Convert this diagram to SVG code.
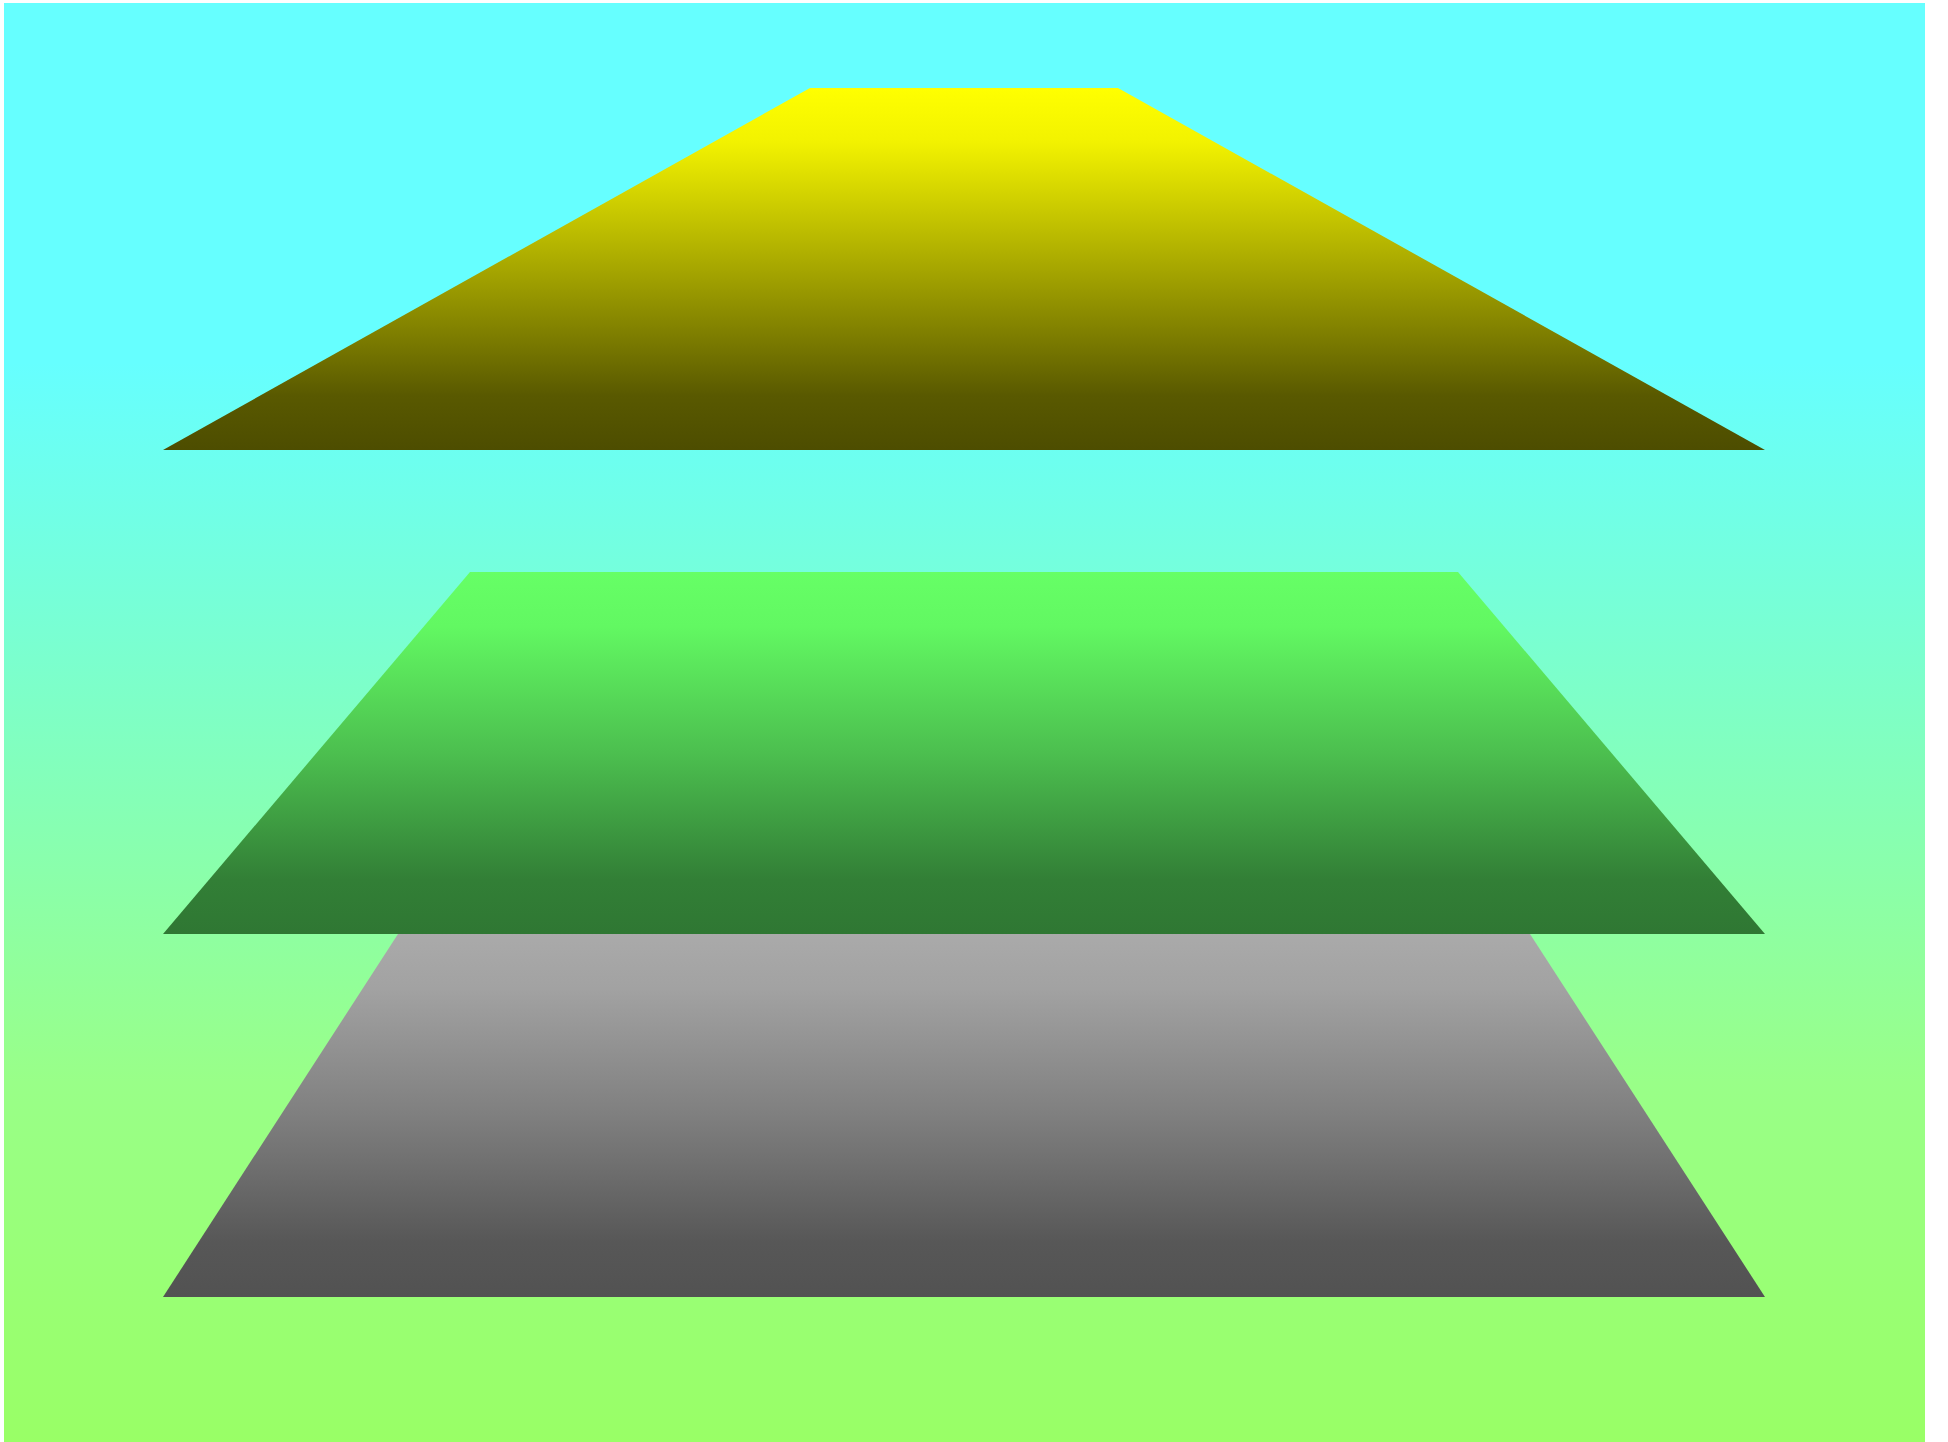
<svg xmlns="http://www.w3.org/2000/svg" width="1948" height="1442" viewBox="0 0 1948 1442">
<defs>
<linearGradient id="bg" x1="0" y1="0" x2="0" y2="1">
<stop offset="0" stop-color="#66ffff"/>
<stop offset="0.25" stop-color="#66ffff"/>
<stop offset="0.75" stop-color="#99ff88"/>
<stop offset="1" stop-color="#99ff66"/>
</linearGradient>
<linearGradient id="gy" x1="0" y1="0" x2="0" y2="1">
<stop offset="0" stop-color="#ffff00"/>
<stop offset="0.15" stop-color="#f2f200"/>
<stop offset="0.5" stop-color="#a6a600"/>
<stop offset="0.85" stop-color="#595900"/>
<stop offset="1" stop-color="#4d4d00"/>
</linearGradient>
<linearGradient id="gg" x1="0" y1="0" x2="0" y2="1">
<stop offset="0" stop-color="#66ff66"/>
<stop offset="0.15" stop-color="#62f862"/>
<stop offset="0.5" stop-color="#4cbf4f"/>
<stop offset="0.85" stop-color="#327f36"/>
<stop offset="1" stop-color="#2f7733"/>
</linearGradient>
<linearGradient id="gr" x1="0" y1="0" x2="0" y2="1">
<stop offset="0" stop-color="#aaaaaa"/>
<stop offset="0.15" stop-color="#a2a2a2"/>
<stop offset="0.5" stop-color="#7f7f7f"/>
<stop offset="0.85" stop-color="#575757"/>
<stop offset="1" stop-color="#525252"/>
</linearGradient>
</defs>
<rect x="4" y="3" width="1921" height="1439" fill="url(#bg)"/>
<g id="layer-bottom"><polygon points="398,934 1530,934 1765,1297 163,1297" fill="url(#gr)"/></g>
<g id="layer-middle"><polygon points="470,572 1458,572 1765,934 163,934" fill="url(#gg)"/></g>
<g id="layer-top"><polygon points="810,88 1118,88 1765,450 163,450" fill="url(#gy)"/></g>
<g id="connectors"/>
</svg>
